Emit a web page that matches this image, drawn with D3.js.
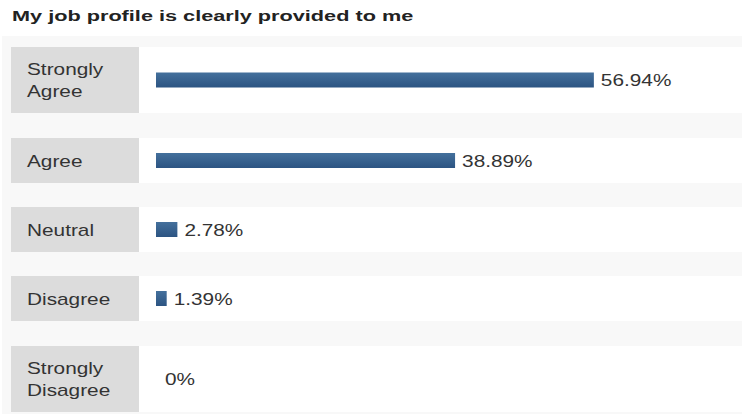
<!DOCTYPE html>
<html><head><meta charset="utf-8">
<script src="https://cdn.jsdelivr.net/npm/d3@7"></script>
<style>html,body{margin:0;padding:0;background:#fff;}svg{display:block;}</style>
</head><body>
<svg id="c" width="742" height="414"></svg>
<script>
const title = "My job profile is clearly provided to me";
const categories = [["Strongly","Agree"],["Agree"],["Neutral"],["Disagree"],["Strongly","Disagree"]];
const values = [56.94, 38.89, 2.78, 1.39, 0];
const valueLabels = ["56.94%","38.89%","2.78%","1.39%","0%"];
const rowTops = [47, 138, 207, 276, 346];
const rowBottoms = [113, 183, 252, 321, 412];

const svg = d3.select("#c");
const font = "'Liberation Sans', Arial, sans-serif";
const sx = 1.3;

svg.append("rect").attr("x",2).attr("y",36).attr("width",740).attr("height",378).attr("fill","#f8f8f8");

svg.append("text").attr("transform","translate(12,21) scale(1.4,1)").attr("font-family",font)
  .attr("font-weight","bold").attr("font-size",15.5).attr("fill","#222").text(title);

const x = d3.scaleLinear().domain([0,100]).range([156, 925]);

const rows = svg.selectAll("g.row").data(values).enter().append("g").attr("class","row");

rows.append("rect").attr("x",11).attr("y",(d,i)=>rowTops[i]).attr("width",731)
  .attr("height",(d,i)=>rowBottoms[i]-rowTops[i]).attr("fill","#fff");
rows.append("rect").attr("x",11).attr("y",(d,i)=>rowTops[i]).attr("width",128)
  .attr("height",(d,i)=>rowBottoms[i]-rowTops[i]).attr("fill","#dcdcdc");

const defs = svg.append("defs");
const g = defs.append("linearGradient").attr("id","bg").attr("x1",0).attr("y1",0).attr("x2",0).attr("y2",1);
g.append("stop").attr("offset","0%").attr("stop-color","#44709c");
g.append("stop").attr("offset","100%").attr("stop-color","#2c5482");

rows.each(function(d,i){
  const sel = d3.select(this);
  const mid = (rowTops[i]+rowBottoms[i])/2;
  const lines = categories[i];
  lines.forEach((l,j)=>{
    const y = mid + 6 + (j - (lines.length-1)/2)*22;
    sel.append("text").attr("font-family",font).attr("font-size",16).attr("fill","#333")
      .attr("transform",`translate(27,${y}) scale(${sx},1)`).text(l);
  });
  if (d > 0) {
    sel.append("rect").attr("x",x(0)).attr("y",mid-7.5).attr("width",x(d)-x(0)).attr("height",15)
      .attr("fill","url(#bg)");
  }
  const lx = d>0 ? x(d)+7 : x(0)+9;
  sel.append("text").attr("font-family",font).attr("font-size",16).attr("fill","#333")
    .attr("transform",`translate(${lx},${mid+6}) scale(${sx},1)`).text(valueLabels[i]);
});
</script>
</body></html>
